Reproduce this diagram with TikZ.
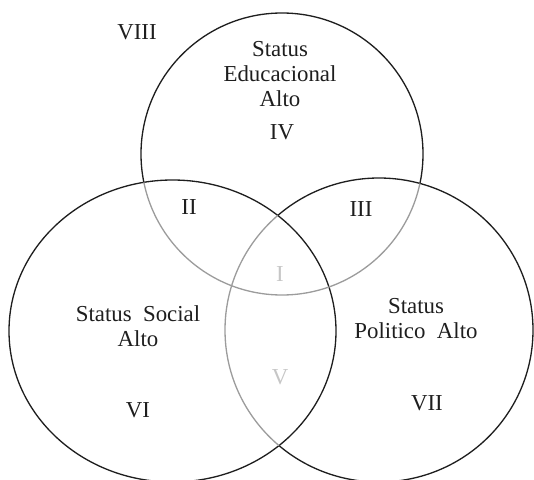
\documentclass[tikz,border=0pt]{standalone}
\usepackage{fontspec}
\setmainfont{Liberation Serif}
\usepackage{tikz}
\usepackage{xcolor}
\usetikzlibrary{positioning}
\definecolor{ink}{HTML}{1E1E1E}
\definecolor{rim}{HTML}{9C9C9C}
\definecolor{faint}{HTML}{C6C6C6}
\tikzset{
  ring/.style={draw=ink, line width=0.75pt},
  ringlight/.style={draw=rim, line width=0.75pt},
  setname/.style={font=\fontsize{13}{14.2}\selectfont, text=ink, align=center, inner sep=1pt},
  zone/.style={font=\fontsize{13}{14.2}\selectfont, text=ink, inner sep=1pt}
}

\begin{document}
\begin{tikzpicture}[x=1cm,y=1cm]
        \useasboundingbox (0,0) rectangle (10.68,9.58);
        \coordinate (social) at (3.45,2.96);
        \coordinate (educ)   at (5.64,6.50);
        \coordinate (polit)  at (7.58,2.98);

        % status social (left)
        \draw[ring] (social) ellipse [x radius=3.27, y radius=3.02];

        % status politico (right), light inside the left set
        \begin{scope}[even odd rule]
          \clip (-1,-1) rectangle (12,11) (social) ellipse [x radius=3.27, y radius=3.02];
          \draw[ring] (polit) ellipse [x radius=3.08, y radius=3.04];
        \end{scope}
        \begin{scope}
          \clip (social) ellipse [x radius=3.27, y radius=3.02];
          \draw[ringlight] (polit) ellipse [x radius=3.08, y radius=3.04];
        \end{scope}

        % status educacional (top), light inside the other sets
        \begin{scope}[even odd rule]
          \clip (-1,-1) rectangle (12,11) (social) ellipse [x radius=3.27, y radius=3.02];
          \clip (-1,-1) rectangle (12,11) (polit) ellipse [x radius=3.08, y radius=3.04];
          \draw[ring] (educ) circle [radius=2.82];
        \end{scope}
        \begin{scope}
          \clip (social) ellipse [x radius=3.27, y radius=3.02] (polit) ellipse [x radius=3.08, y radius=3.04];
          \draw[ringlight] (educ) circle [radius=2.82];
        \end{scope}

        % set names
        \node[setname] (edutxt) at (5.60,8.10) {Status\\Educacional\\Alto};
        \node[setname] (soctxt) at (2.76,3.06) {Status\ \ Social\\Alto};
        \node[setname] (poltxt) at (8.32,3.20) {Status\\Politico\ \ Alto};

        % zones
        \node[zone] (viii) at (2.74,8.94) {VIII};
        \node[zone] (iv)   at (5.64,6.94) {IV};
        \node[zone] (ii)   at (3.78,5.44) {II};
        \node[zone] (iii)  at (7.22,5.40) {III};
        \node[zone,text=faint] (i) at (5.60,4.10) {I};
        \node[zone,text=faint] (v) at (5.60,2.04) {V};
        \node[zone] (vi)   at (2.76,1.38) {VI};
        \node[zone] (vii)  at (8.54,1.52) {VII};
      \end{tikzpicture}
\end{document}
